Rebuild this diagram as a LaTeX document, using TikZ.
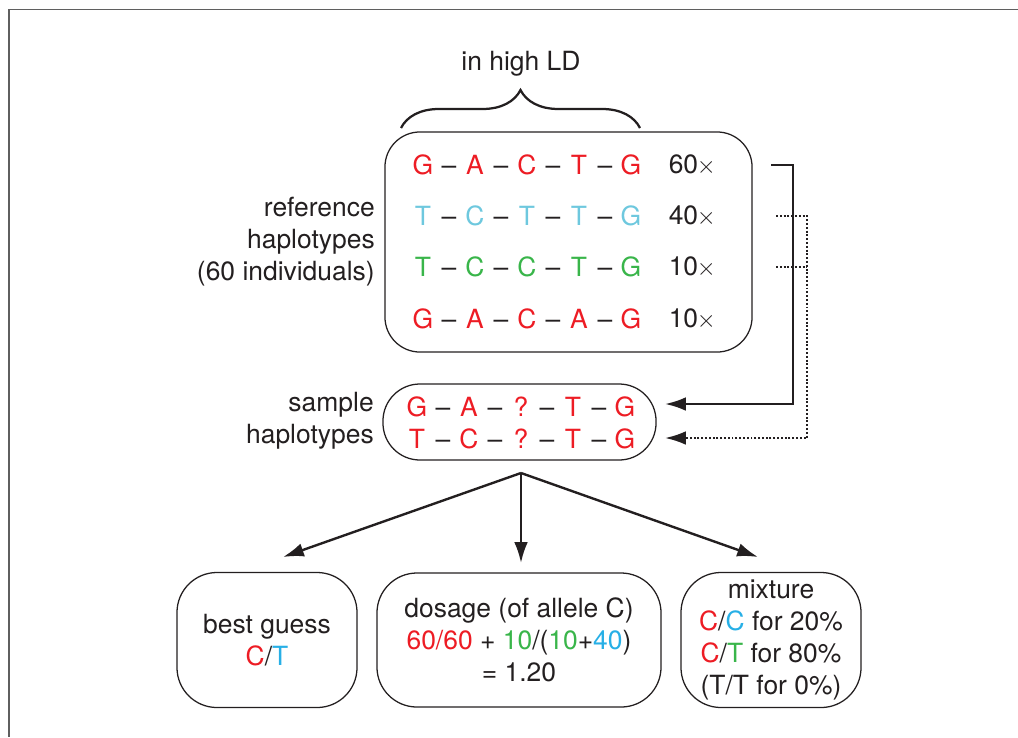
\documentclass[tikz,border=0pt]{standalone}
\usepackage{fontspec}
\setmainfont{TeX Gyre Heros}
\usepackage{tikz}
\usetikzlibrary{arrows.meta}
\usetikzlibrary{decorations.pathreplacing}

\definecolor{hapred}{RGB}{237,28,36}
\definecolor{hapcyan}{RGB}{110,200,222}
\definecolor{hapgreen}{RGB}{57,181,74}
\definecolor{hapblue}{RGB}{39,175,230}
\definecolor{inkgray}{RGB}{35,31,32}
\definecolor{framegray}{RGB}{95,95,95}

\newlength{\cellw}
\setlength{\cellw}{0.65cm}
\newcommand{\hapcell}[1]{\makebox[\cellw]{#1}}
\newcommand{\hapseq}[6]{%
  \textcolor{#1}{\hapcell{#2}}\hapcell{\textendash}%
  \textcolor{#1}{\hapcell{#3}}\hapcell{\textendash}%
  \textcolor{#1}{\hapcell{#4}}\hapcell{\textendash}%
  \textcolor{#1}{\hapcell{#5}}\hapcell{\textendash}%
  \textcolor{#1}{\hapcell{#6}}}
\newcommand{\copies}[1]{#1\kern-0.05em$\times$}

\tikzset{
  >={Latex[length=0.52cm,width=0.34cm]},
  every node/.style={font=\fontsize{18.8}{22.7}\selectfont, text=inkgray},
  hapbox/.style={draw=inkgray, line width=0.9pt, rounded corners=#1},
  haprow/.style={inner sep=0pt},
  link/.style={draw=inkgray, line width=1.7pt},
  dotlink/.style={draw=inkgray, line width=1.6pt, dash pattern=on 1.4pt off 1.3pt},
}

\begin{document}
\begin{tikzpicture}[x=0.025cm, y=-0.025cm]
  \useasboundingbox (0,0) rectangle (1018,737);
  % frame
  \draw[framegray, line width=1pt] (1018,9.5) -- (9,9.5) -- (9,737);

  % linkage block
  \node (ldlabel) at (521,64) {in high LD};
  \draw[line width=1.6pt, inkgray, decorate, decoration={brace, amplitude=0.95cm}]
    (401,128) -- (640,128);

  \node[hapbox=0.875cm, minimum width=9.175cm, minimum height=5.5cm] (refbox) at (568.5,242) {};
  \node[haprow] (ref1) at (527,165) {\hapseq{hapred}{G}{A}{C}{T}{G}};
  \node[haprow] (ref2) at (527,216) {\hapseq{hapcyan}{T}{C}{T}{T}{G}};
  \node[haprow] (ref3) at (527,267) {\hapseq{hapgreen}{T}{C}{C}{T}{G}};
  \node[haprow] (ref4) at (527,319) {\hapseq{hapred}{G}{A}{C}{A}{G}};
  \node[haprow, anchor=east] (cnt1) at (716,165) {\copies{60}};
  \node[haprow, anchor=east] (cnt2) at (716,216) {\copies{40}};
  \node[haprow, anchor=east] (cnt3) at (716,267) {\copies{10}};
  \node[haprow, anchor=east] (cnt4) at (716,319) {\copies{10}};
  \node[align=right, anchor=east, inner sep=0pt] (reflabel) at (375,242)
    {reference\\haplotypes\\(60 individuals)};

  % sample
  \node[hapbox=0.925cm, minimum width=6.825cm, minimum height=1.9cm] (samplebox) at (519.5,422) {};
  \node[haprow] (samp1) at (521,407) {\hapseq{hapred}{G}{A}{?}{T}{G}};
  \node[haprow] (samp2) at (521,439) {\hapseq{hapred}{T}{C}{?}{T}{G}};
  \node[align=right, anchor=east, inner sep=0pt] (samplabel) at (374,421)
    {sample\\haplotypes};

  % copying paths
  \coordinate (solidstart) at (771,165);
  \coordinate (dotstart2) at (776,216);
  \coordinate (dotstart3) at (776,267);
  \coordinate (bend1) at (793,404);
  \coordinate (bend2) at (807,438);
  \coordinate (in1) at (665,404);
  \coordinate (in2) at (665,438);
  \draw[link, ->] (solidstart) -| (bend1) -- (in1);
  \draw[dotlink, ->] (dotstart2) -| (bend2) -- (in2);
  \draw[dotlink] (dotstart3) -- (dotstart3 -| bend2);

  % outcomes
  \node[hapbox=1cm, minimum width=4.5cm, minimum height=3.375cm, align=center] (guessbox) at (267,640)
    {best guess\\\textcolor{hapred}{C}/\textcolor{hapblue}{T}};
  \node[hapbox=1cm, minimum width=7.1cm, minimum height=3.35cm, align=center] (dosagebox) at (519,640)
    {dosage (of allele C)\\\textcolor{hapred}{60/60} + \textcolor{hapgreen}{10}/(\textcolor{hapgreen}{10}+\textcolor{hapblue}{40})\\= 1.20};
  \node[hapbox=1cm, minimum width=4.5cm, minimum height=3.375cm, align=center] (mixbox) at (771,640)
    {mixture\\\textcolor{hapred}{C}/\textcolor{hapblue}{C} for 20\%\\\textcolor{hapred}{C}/\textcolor{hapgreen}{T} for 80\%\\(T/T for 0\%)};

  \coordinate (fork) at (521,473);
  \coordinate (tipguess) at (283,557);
  \coordinate (tipdosage) at (521,563);
  \coordinate (tipmix) at (758,557);
  \draw[link, ->] (fork) -- (tipguess);
  \draw[link, ->] (fork) -- (tipdosage);
  \draw[link, ->] (fork) -- (tipmix);
\end{tikzpicture}
\end{document}
